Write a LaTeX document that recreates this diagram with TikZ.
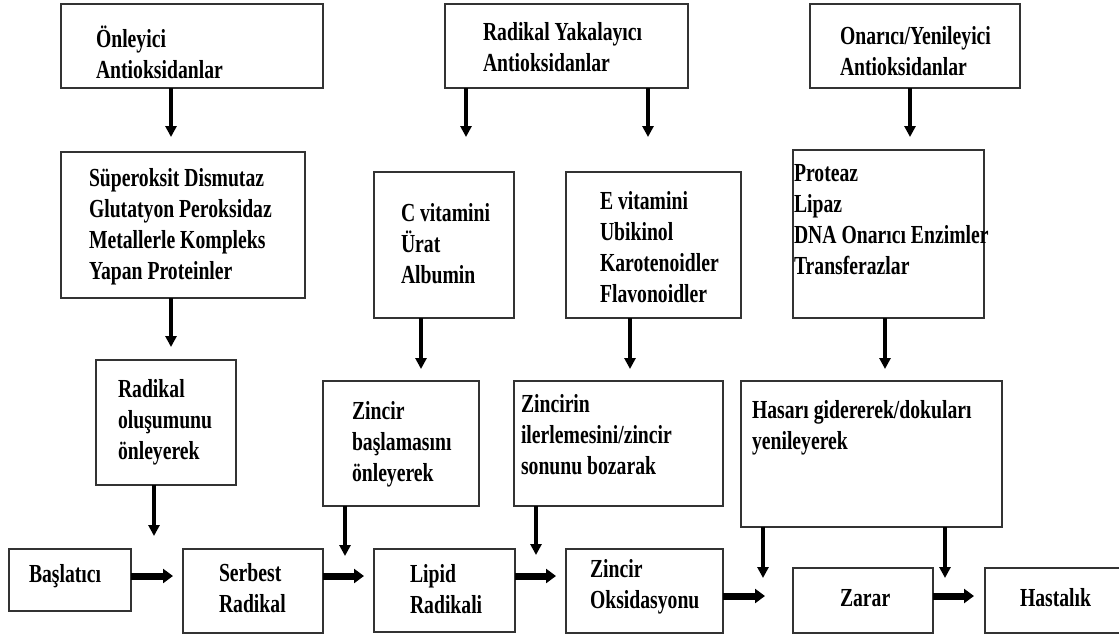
\documentclass[tikz,border=0pt]{standalone}
\usepackage{fontspec}
\setmainfont{Liberation Serif}[FakeStretch=0.757]
\usetikzlibrary{arrows.meta}
\tikzset{
  box/.style={draw=black!80, line width=1.8pt, inner sep=0pt, outer sep=0pt, rectangle},
  txt/.style={anchor=base west, align=left, inner sep=0pt, outer sep=0pt,
    font=\fontsize{26pt}{30.7pt}\selectfont\bfseries},
  varrow/.style={line width=4.5pt, -{Triangle[width=11pt,length=11pt]}},
  harrow/.style={line width=7pt, -{Triangle[width=14pt,length=10pt]}}
}
\begin{document}
\begin{tikzpicture}[x=1pt,y=-1pt]
\useasboundingbox (0,0) rectangle (1119,635);
% boxes
\node[box, minimum width=262pt, minimum height=84pt] (b1) at (192,46) {};
\node[box, minimum width=243pt, minimum height=84pt] (b2) at (566.5,46) {};
\node[box, minimum width=210pt, minimum height=84pt] (b3) at (915,46) {};
\node[box, minimum width=244pt, minimum height=146pt] (b4) at (183,225) {};
\node[box, minimum width=140pt, minimum height=146pt] (b5) at (444,245) {};
\node[box, minimum width=175pt, minimum height=146pt] (b6) at (653.5,245) {};
\node[box, minimum width=191pt, minimum height=168pt] (b7) at (888.5,234) {};
\node[box, minimum width=140pt, minimum height=125pt] (b8) at (166,422.5) {};
\node[box, minimum width=156pt, minimum height=125pt] (b9) at (401,443.5) {};
\node[box, minimum width=209pt, minimum height=125pt] (b10) at (618.5,443.5) {};
\node[box, minimum width=261pt, minimum height=146pt] (b11) at (871.5,454) {};
\node[box, minimum width=122pt, minimum height=62pt] (b12) at (70,580) {};
\node[box, minimum width=140pt, minimum height=84pt] (b13) at (253,591) {};
\node[box, minimum width=141pt, minimum height=83pt] (b14) at (444.5,590.5) {};
\node[box, minimum width=157pt, minimum height=84pt] (b15) at (644.5,591) {};
\node[box, minimum width=140pt, minimum height=65pt] (b16) at (863,600.5) {};
\node[box, minimum width=140pt, minimum height=65pt] (b17) at (1055,600.5) {};
% texts (anchor = baseline of last line)
\node[txt] (t1) at (96,78) {Önleyici\\Antioksidanlar};
\node[txt] (t2) at (483,71) {Radikal Yakalayıcı\\Antioksidanlar};
\node[txt] (t3) at (840,75) {Onarıcı/Yenileyici\\Antioksidanlar};
\node[txt] (t4) at (89,279) {Süperoksit Dismutaz\\Glutatyon Peroksidaz\\Metallerle Kompleks\\Yapan Proteinler};
\node[txt] (t5) at (401,283) {C vitamini\\Ürat\\Albumin};
\node[txt] (t6) at (600,302) {E vitamini\\Ubikinol\\Karotenoidler\\Flavonoidler};
\node[txt] (t7) at (794,274) {Proteaz\\Lipaz\\DNA Onarıcı Enzimler\\Transferazlar};
\node[txt] (t8) at (118,459) {Radikal\\oluşumunu\\önleyerek};
\node[txt] (t9) at (352,481) {Zincir\\başlamasını\\önleyerek};
\node[txt] (t10) at (521,474) {Zincirin\\ilerlemesini/zincir\\sonunu bozarak};
\node[txt] (t11) at (752,449) {Hasarı gidererek/dokuları\\yenileyerek};
\node[txt] (t12) at (29,582) {Başlatıcı};
\node[txt] (t13) at (219,612) {Serbest\\Radikal};
\node[txt] (t14) at (410,613) {Lipid\\Radikali};
\node[txt] (t15) at (590,608) {Zincir\\Oksidasyonu};
\node[txt] (t16) at (840,606) {Zarar};
\node[txt] (t17) at (1020,606) {Hastalık};
% helper coordinates
\coordinate (xa) at (171,0);
\coordinate (xb) at (466,0);
\coordinate (xc) at (648,0);
\coordinate (xd) at (910,0);
\coordinate (xe) at (421,0);
\coordinate (xf) at (630,0);
\coordinate (xg) at (885,0);
\coordinate (e8) at (154,536);
\coordinate (e9) at (345,556);
\coordinate (e10) at (536,555);
\coordinate (e11a) at (763,578);
\coordinate (e11b) at (945,578);
\coordinate (ya) at (0,576);
\coordinate (yb) at (0,596);
% vertical arrows
\draw[varrow, shorten >=15pt] (b1.south -| xa) -- (b4.north -| xa);
\draw[varrow, shorten >=35pt] (b2.south -| xb) -- (b5.north -| xb);
\draw[varrow, shorten >=35pt] (b2.south -| xc) -- (b6.north -| xc);
\draw[varrow, shorten >=13pt] (b3.south -| xd) -- (b7.north -| xd);
\draw[varrow, shorten >=13pt] (b4.south -| xa) -- (b8.north -| xa);
\draw[varrow, shorten >=12pt] (b5.south -| xe) -- (b9.north -| xe);
\draw[varrow, shorten >=12pt] (b6.south -| xf) -- (b10.north -| xf);
\draw[varrow, shorten >=12pt] (b7.south -| xg) -- (b11.north -| xg);
\draw[varrow] (b8.south -| e8) -- (e8);
\draw[varrow] (b9.south -| e9) -- (e9);
\draw[varrow] (b10.south -| e10) -- (e10);
\draw[varrow] (b11.south -| e11a) -- (e11a);
\draw[varrow] (b11.south -| e11b) -- (e11b);
% horizontal arrows
\draw[harrow, shorten >=10pt] (b12.east |- ya) -- (b13.west |- ya);
\draw[harrow, shorten >=10pt] (b13.east |- ya) -- (b14.west |- ya);
\draw[harrow, shorten >=10pt] (b14.east |- ya) -- (b15.west |- ya);
\draw[harrow, shorten >=28pt] (b15.east |- yb) -- (b16.west |- yb);
\draw[harrow, shorten >=11pt] (b16.east |- yb) -- (b17.west |- yb);
\end{tikzpicture}
\end{document}
